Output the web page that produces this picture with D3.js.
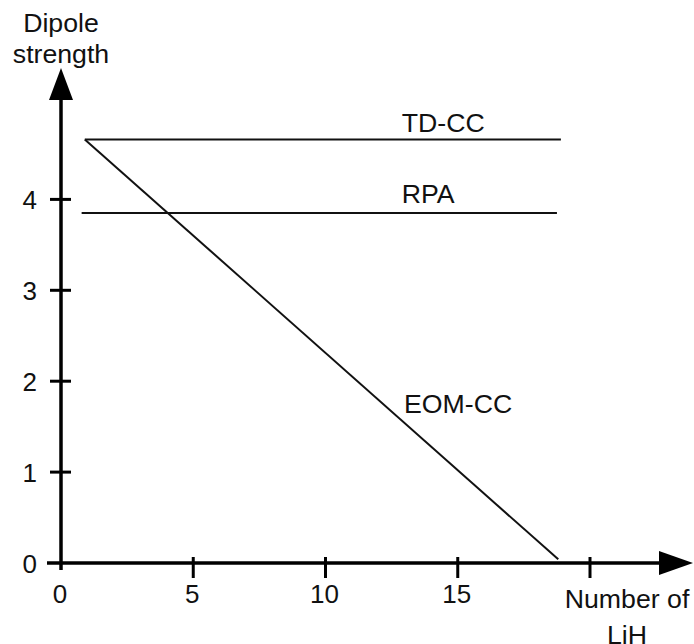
<!DOCTYPE html>
<html><head><meta charset="utf-8">
<script src="https://cdn.jsdelivr.net/npm/d3@7"></script>
<style>
html,body{margin:0;padding:0;background:#fff;}
text{font-family:"Liberation Sans",Arial,sans-serif;fill:#111;}
</style></head>
<body>
<svg id="chart" width="694" height="644"></svg>
<script>
// ---- data ----
const seriesNames = ["TD-CC", "RPA", "EOM-CC"];
const tdccX = [0.9, 18.9];
const tdccY = [4.66, 4.66];
const rpaX = [0.78, 18.75];
const rpaY = [3.85, 3.85];
const eomX = [0.9, 18.8];
const eomY = [4.66, 0.04];
const xTicks = [0, 5, 10, 15, 20];
const xTickLabels = ["0", "5", "10", "15", ""];
const yTicks = [0, 1, 2, 3, 4];
const yTickLabels = ["0", "1", "2", "3", "4"];
const yTitle = ["Dipole", "strength"];
const xTitle = ["Number of", "LiH"];
// label anchor points in data units (annotation placement)
const labelX = [12.88, 12.88, 12.97];
const labelY = [4.74, 3.96, 1.65];

// ---- layout ----
const svg = d3.select("#chart");
const x = d3.scaleLinear().domain([0, 20]).range([61, 590]);
const y = d3.scaleLinear().domain([0, 4]).range([563, 199.4]);
const FS = 26;
const FSW = 26.7;

// series lines
const series = [
  {name: seriesNames[0], xs: tdccX, ys: tdccY},
  {name: seriesNames[1], xs: rpaX, ys: rpaY},
  {name: seriesNames[2], xs: eomX, ys: eomY}
];
const line = d3.line().x(d => x(d[0])).y(d => y(d[1]));
svg.selectAll("path.series").data(series).join("path")
  .attr("class", "series")
  .attr("d", s => line(s.xs.map((v, i) => [v, s.ys[i]])))
  .attr("fill", "none").attr("stroke", "#111").attr("stroke-width", 2);

svg.selectAll("text.slabel").data(series).join("text")
  .attr("class", "slabel")
  .attr("x", (s, i) => x(labelX[i]))
  .attr("y", (s, i) => y(labelY[i]))
  .attr("font-size", FSW)
  .text(s => s.name);

// axes
const ax = svg.append("g");
const axisW = 3.5;
// y axis line
ax.append("line").attr("x1", x(0)).attr("x2", x(0))
  .attr("y1", 570).attr("y2", 98)
  .attr("stroke", "#000").attr("stroke-width", axisW);
ax.append("path")
  .attr("d", `M${x(0)},68 L${x(0)-12},100 L${x(0)+12},100 Z`)
  .attr("fill", "#000");
// x axis line
ax.append("line").attr("x1", 47).attr("x2", 661)
  .attr("y1", y(0)).attr("y2", y(0))
  .attr("stroke", "#000").attr("stroke-width", axisW);
ax.append("path")
  .attr("d", `M693,${y(0)} L659,${y(0)-12} L659,${y(0)+12} Z`)
  .attr("fill", "#000");

// y ticks
ax.selectAll("line.yt").data(yTicks.filter(d => d > 0)).join("line")
  .attr("class", "yt")
  .attr("x1", x(0) - 11).attr("x2", x(0) + 10)
  .attr("y1", d => y(d)).attr("y2", d => y(d))
  .attr("stroke", "#000").attr("stroke-width", 3);
ax.selectAll("text.yl").data(yTicks).join("text")
  .attr("class", "yl")
  .attr("x", 37).attr("y", d => y(d) + 10)
  .attr("text-anchor", "end").attr("font-size", FS)
  .text((d, i) => yTickLabels[i]);

// x ticks
ax.selectAll("line.xt").data(xTicks.filter(d => d > 0)).join("line")
  .attr("class", "xt")
  .attr("x1", d => x(d)).attr("x2", d => x(d))
  .attr("y1", y(0) - 6).attr("y2", y(0) + 15)
  .attr("stroke", "#000").attr("stroke-width", 3);
ax.selectAll("text.xl").data(xTicks).join("text")
  .attr("class", "xl")
  .attr("x", d => x(d) - 1).attr("y", 603)
  .attr("text-anchor", "middle").attr("font-size", FS)
  .text((d, i) => xTickLabels[i]);

// titles
svg.selectAll("text.yt2").data(yTitle).join("text")
  .attr("class", "yt2")
  .attr("x", x(0)).attr("y", (d, i) => 32 + i * 31)
  .attr("text-anchor", "middle").attr("font-size", FSW)
  .text(d => d);
svg.selectAll("text.xt2").data(xTitle).join("text")
  .attr("class", "xt2")
  .attr("x", 627).attr("y", (d, i) => 608 + i * 36)
  .attr("text-anchor", "middle").attr("font-size", FSW)
  .text(d => d);
</script>
</body></html>
